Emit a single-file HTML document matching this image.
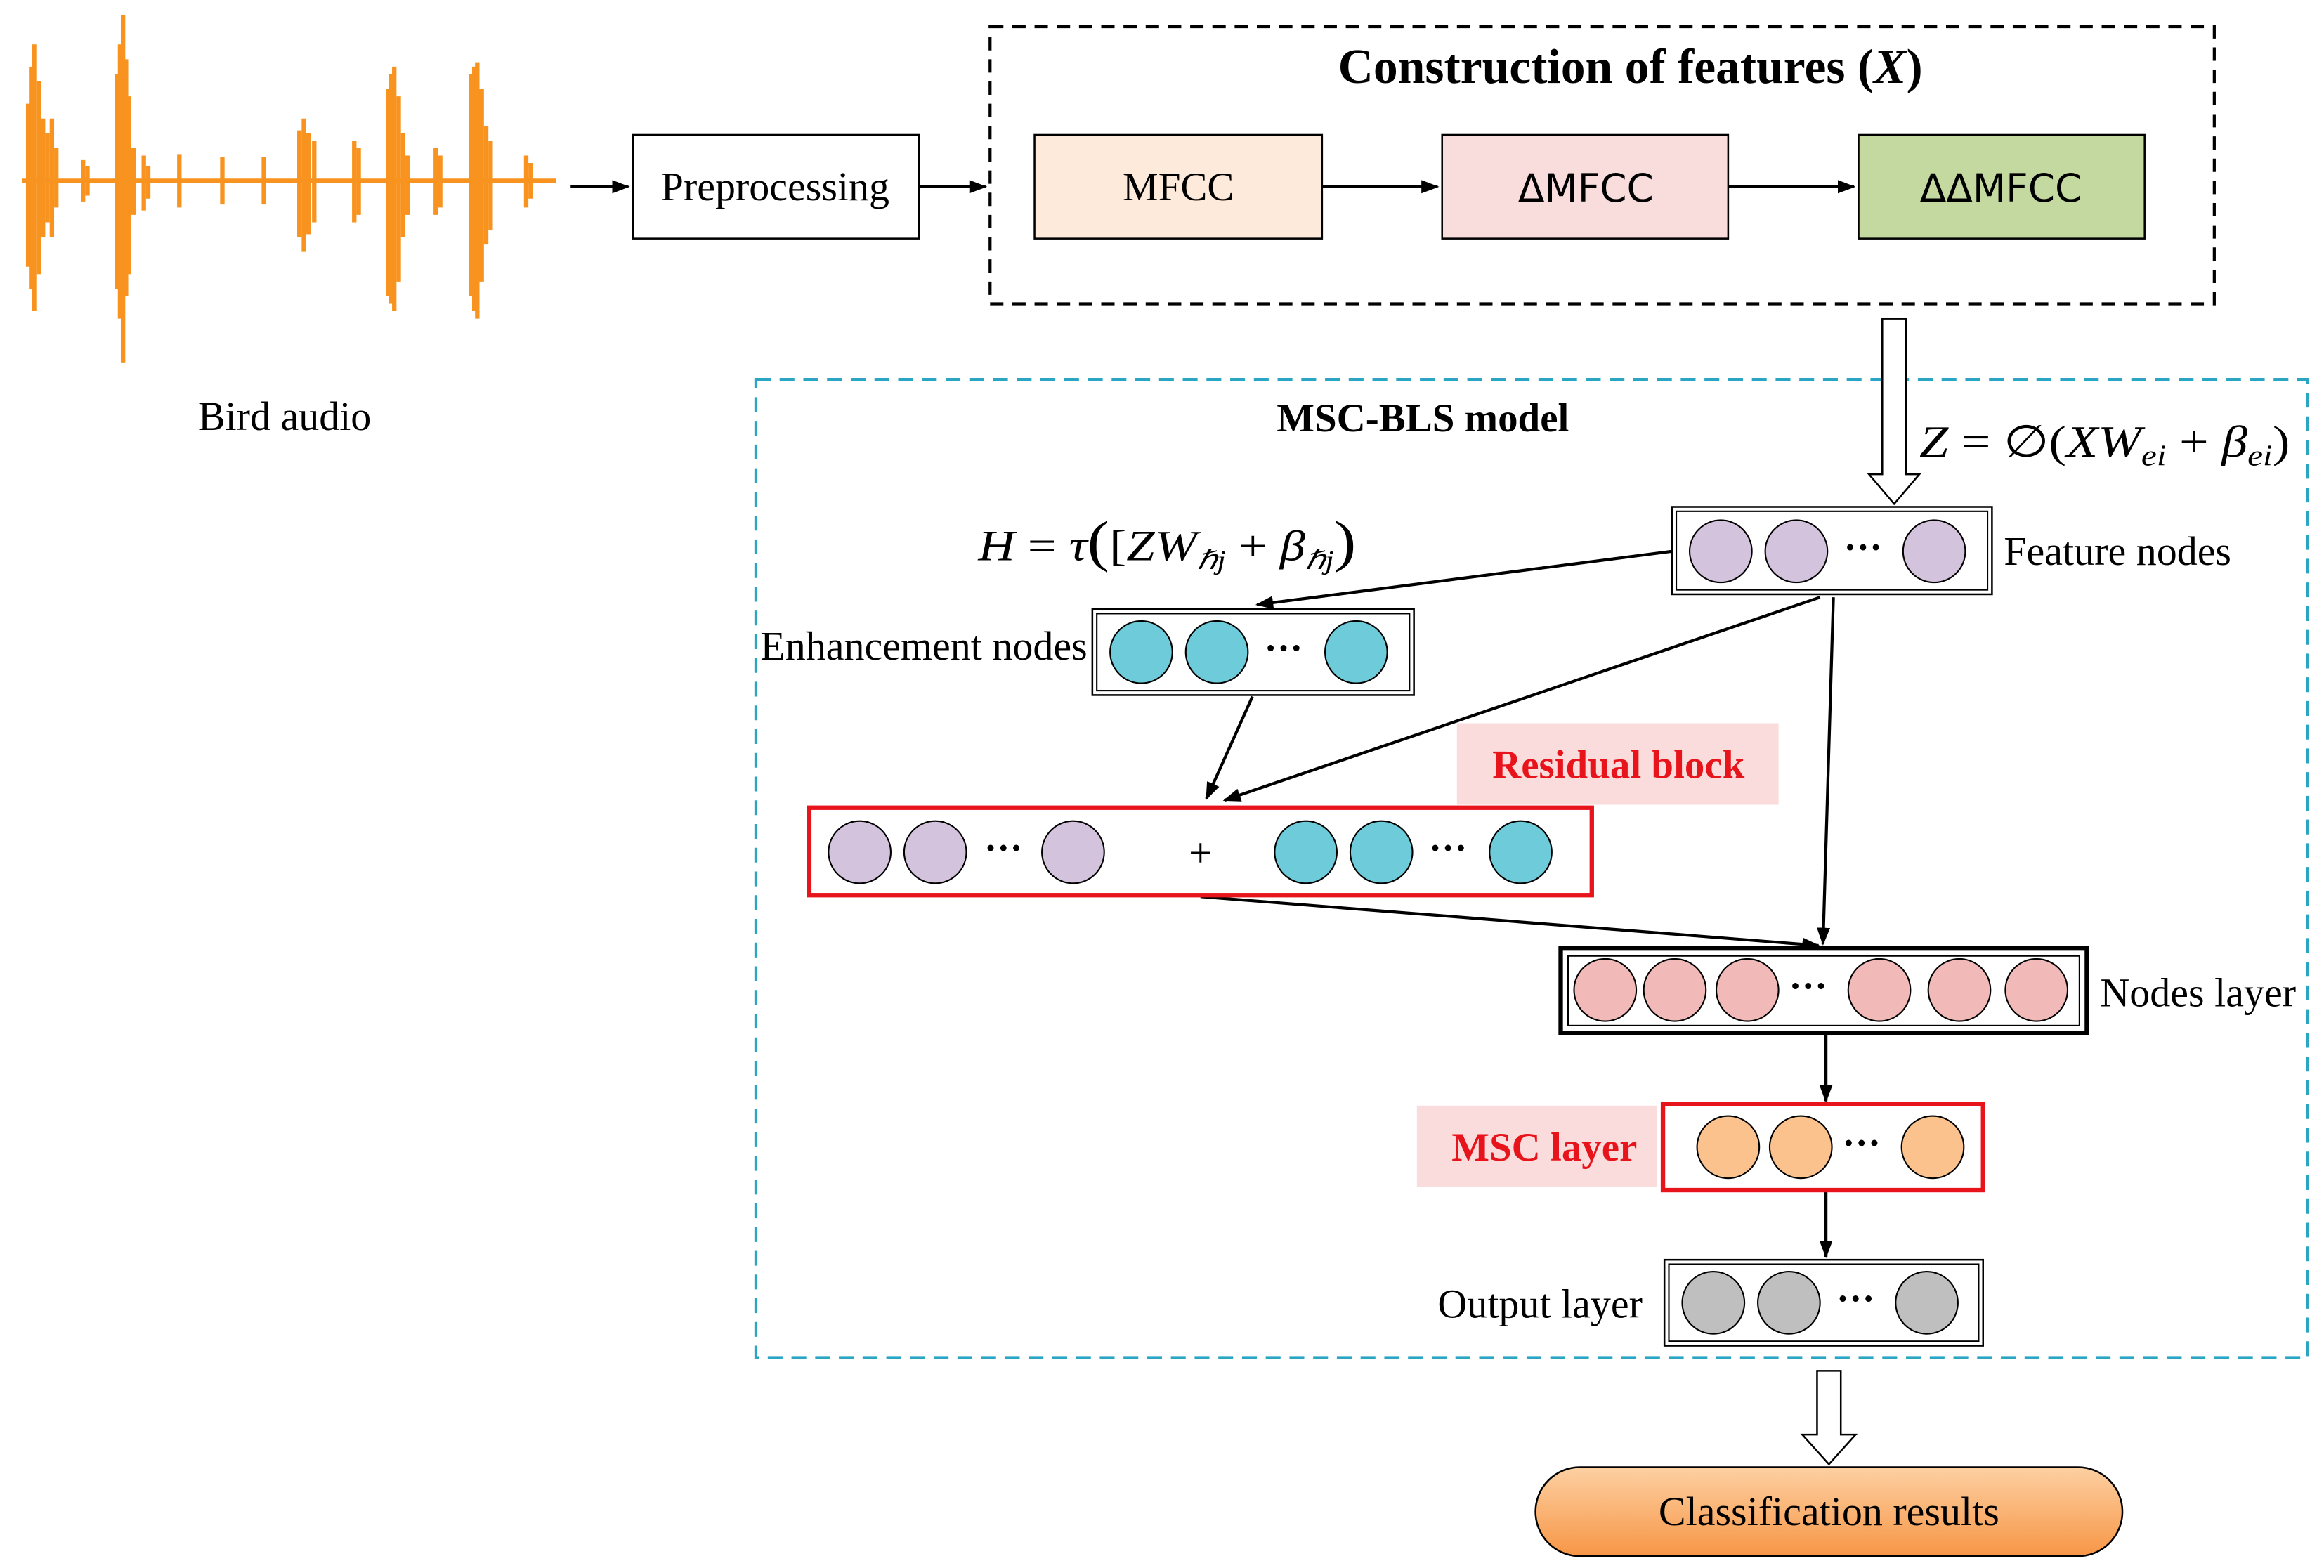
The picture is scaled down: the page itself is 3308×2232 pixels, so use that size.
<!DOCTYPE html>
<html><head><meta charset="utf-8"><style>html,body{margin:0;padding:0;background:#fff}svg{display:block}</style></head>
<body>
<svg width="3308" height="2232" viewBox="0 0 1568 1058" xmlns="http://www.w3.org/2000/svg" font-family="'Liberation Serif', serif">
<defs>
<marker id="ah" markerWidth="12" markerHeight="9" refX="11" refY="4.5" orient="auto" markerUnits="userSpaceOnUse"><path d="M0,0 L12,4.5 L0,9 Z" fill="#000"/></marker>
<linearGradient id="og" x1="0" y1="0" x2="0" y2="1"><stop offset="0" stop-color="#fdd0a2"/><stop offset="1" stop-color="#f79646"/></linearGradient>
</defs>
<!-- waveform -->
<g stroke="#f7931e" stroke-width="3">
<line x1="15" y1="122" x2="375" y2="122"/>
<line x1="19" y1="70" x2="19" y2="180"/><line x1="21" y1="45" x2="21" y2="195"/><line x1="23" y1="30" x2="23" y2="210"/><line x1="26" y1="55" x2="26" y2="185"/><line x1="29" y1="80" x2="29" y2="160"/><line x1="32" y1="90" x2="32" y2="150"/><line x1="35" y1="80" x2="35" y2="160"/><line x1="38" y1="100" x2="38" y2="140"/>
<line x1="56" y1="108" x2="56" y2="136"/><line x1="59" y1="112" x2="59" y2="132"/>
<line x1="79" y1="50" x2="79" y2="195"/><line x1="81" y1="30" x2="81" y2="215"/><line x1="83" y1="10" x2="83" y2="245"/><line x1="85" y1="40" x2="85" y2="200"/><line x1="87" y1="65" x2="87" y2="185"/><line x1="90" y1="100" x2="90" y2="145"/>
<line x1="97" y1="105" x2="97" y2="142"/><line x1="100" y1="112" x2="100" y2="134"/>
<line x1="121" y1="104" x2="121" y2="140"/><line x1="150" y1="106" x2="150" y2="138"/><line x1="178" y1="106" x2="178" y2="138"/>
<line x1="202" y1="88" x2="202" y2="160"/><line x1="205" y1="80" x2="205" y2="170"/><line x1="208" y1="90" x2="208" y2="158"/><line x1="212" y1="95" x2="212" y2="150"/>
<line x1="239" y1="95" x2="239" y2="150"/><line x1="242" y1="100" x2="242" y2="145"/>
<line x1="262" y1="60" x2="262" y2="200"/><line x1="264" y1="50" x2="264" y2="205"/><line x1="266" y1="45" x2="266" y2="210"/><line x1="269" y1="65" x2="269" y2="190"/><line x1="272" y1="90" x2="272" y2="160"/><line x1="275" y1="105" x2="275" y2="145"/>
<line x1="294" y1="100" x2="294" y2="145"/><line x1="297" y1="105" x2="297" y2="140"/>
<line x1="318" y1="50" x2="318" y2="200"/><line x1="320" y1="45" x2="320" y2="210"/><line x1="322" y1="42" x2="322" y2="215"/><line x1="325" y1="60" x2="325" y2="190"/><line x1="328" y1="85" x2="328" y2="165"/><line x1="331" y1="95" x2="331" y2="155"/>
<line x1="355" y1="105" x2="355" y2="140"/><line x1="358" y1="110" x2="358" y2="134"/>
</g>
<text x="192" y="290" font-size="27.5" text-anchor="middle">Bird audio</text>
<!-- top row -->
<line x1="385" y1="126" x2="424" y2="126" stroke="#000" stroke-width="2" marker-end="url(#ah)"/>
<rect x="427" y="91" width="193" height="70" fill="#fff" stroke="#000" stroke-width="1.2"/>
<text x="523" y="135" font-size="27.5" text-anchor="middle">Preprocessing</text>
<line x1="620" y1="126" x2="665" y2="126" stroke="#000" stroke-width="2" marker-end="url(#ah)"/>
<rect x="668" y="18" width="826" height="187" fill="none" stroke="#000" stroke-width="2" stroke-dasharray="9,6"/>
<text x="1100" y="56" font-size="33" font-weight="bold" text-anchor="middle">Construction of features (<tspan font-style="italic">X</tspan>)</text>
<rect x="698" y="91" width="194" height="70" fill="#fdeada" stroke="#000" stroke-width="1.2"/>
<text x="795" y="135" font-size="27" text-anchor="middle">MFCC</text>
<line x1="892" y1="126" x2="970" y2="126" stroke="#000" stroke-width="2" marker-end="url(#ah)"/>
<rect x="973" y="91" width="193" height="70" fill="#f9dcdc" stroke="#000" stroke-width="1.2"/>
<text x="1070" y="136" font-size="26" text-anchor="middle" font-family="'DejaVu Sans',sans-serif">ΔMFCC</text>
<line x1="1166" y1="126" x2="1251" y2="126" stroke="#000" stroke-width="2" marker-end="url(#ah)"/>
<rect x="1254" y="91" width="193" height="70" fill="#c3d99f" stroke="#000" stroke-width="1.2"/>
<text x="1350" y="136" font-size="26" text-anchor="middle" font-family="'DejaVu Sans',sans-serif">ΔΔMFCC</text>
<!-- cyan box -->
<rect x="510" y="256" width="1047" height="660" fill="none" stroke="#2aa6c4" stroke-width="2" stroke-dasharray="10,6"/>
<text x="960" y="291" font-size="27" font-weight="bold" text-anchor="middle">MSC-BLS model</text>
<path d="M1270,215 H1286 V320 H1295 L1278,340 L1261,320 H1270 Z" fill="#fff" stroke="#000" stroke-width="1.2"/>
<text x="1295" y="308" font-size="30" font-style="italic" textLength="250" lengthAdjust="spacingAndGlyphs">Z <tspan font-style="normal">= ∅(</tspan>XW<tspan font-size="20" dy="6">ei</tspan><tspan dy="-6" font-style="normal"> + </tspan>β<tspan font-size="20" dy="6">ei</tspan><tspan dy="-6" font-style="normal">)</tspan></text>
<text x="660" y="378" font-size="29" font-style="italic" textLength="255" lengthAdjust="spacingAndGlyphs">H <tspan font-style="normal">= </tspan>τ<tspan font-style="normal" font-size="38">(</tspan><tspan font-style="normal">[</tspan>ZW<tspan font-size="18" dy="6">ℏj</tspan><tspan dy="-6" font-style="normal"> + </tspan>β<tspan font-size="18" dy="6">ℏj</tspan><tspan dy="-6" font-style="normal" font-size="38">)</tspan></text>
<!-- feature nodes -->
<rect x="1128" y="342" width="216" height="59" fill="#fff" stroke="#000" stroke-width="1.2"/>
<rect x="1131" y="345" width="210" height="53" fill="none" stroke="#000" stroke-width="1"/>
<g fill="#d4c3dd" stroke="#000" stroke-width="1"><circle cx="1161" cy="372" r="21"/><circle cx="1212" cy="372" r="21"/><circle cx="1305" cy="372" r="21"/></g>
<text x="1257" y="378" font-size="26" text-anchor="middle" font-weight="bold">···</text>
<text x="1352" y="381" font-size="27.5">Feature nodes</text>
<!-- enhancement -->
<rect x="737" y="411" width="217" height="58" fill="#fff" stroke="#000" stroke-width="1.2"/>
<rect x="740" y="414" width="211" height="52" fill="none" stroke="#000" stroke-width="1"/>
<g fill="#6ecbd9" stroke="#000" stroke-width="1"><circle cx="770" cy="440" r="21"/><circle cx="821" cy="440" r="21"/><circle cx="915" cy="440" r="21"/></g>
<text x="866" y="446" font-size="26" text-anchor="middle" font-weight="bold">···</text>
<text x="513" y="445" font-size="27.5">Enhancement nodes</text>
<!-- arrows -->
<g stroke="#000" stroke-width="2" fill="none">
<line x1="1128" y1="372" x2="848" y2="408" marker-end="url(#ah)"/>
<line x1="845" y1="470" x2="814" y2="539" marker-end="url(#ah)"/>
<line x1="1228" y1="403" x2="826" y2="540" marker-end="url(#ah)"/>
<line x1="1237" y1="403" x2="1230" y2="637" marker-end="url(#ah)"/>
<line x1="810" y1="605" x2="1227" y2="638" marker-end="url(#ah)"/>
<line x1="1232" y1="697" x2="1232" y2="743" marker-end="url(#ah)"/>
<line x1="1232" y1="803" x2="1232" y2="848" marker-end="url(#ah)"/>
</g>
<!-- residual -->
<rect x="983" y="488" width="217" height="55" fill="#fbdcdc"/>
<text x="1092" y="525" font-size="27" font-weight="bold" fill="#e8141c" text-anchor="middle">Residual block</text>
<rect x="546" y="545" width="528" height="59" fill="#fff" stroke="#e8141c" stroke-width="3"/>
<g fill="#d4c3dd" stroke="#000" stroke-width="1"><circle cx="580" cy="575" r="21"/><circle cx="631" cy="575" r="21"/><circle cx="724" cy="575" r="21"/></g>
<g fill="#6ecbd9" stroke="#000" stroke-width="1"><circle cx="881" cy="575" r="21"/><circle cx="932" cy="575" r="21"/><circle cx="1026" cy="575" r="21"/></g>
<text x="677" y="581" font-size="26" text-anchor="middle" font-weight="bold">···</text>
<text x="977" y="581" font-size="26" text-anchor="middle" font-weight="bold">···</text>
<text x="810" y="585" font-size="28" text-anchor="middle">+</text>
<!-- nodes layer -->
<rect x="1053" y="640" width="355" height="57" fill="#fff" stroke="#000" stroke-width="3"/>
<rect x="1058" y="645" width="345" height="47" fill="none" stroke="#000" stroke-width="1"/>
<g fill="#f2b9b9" stroke="#000" stroke-width="1"><circle cx="1083" cy="668" r="21"/><circle cx="1130" cy="668" r="21"/><circle cx="1179" cy="668" r="21"/><circle cx="1268" cy="668" r="21"/><circle cx="1322" cy="668" r="21"/><circle cx="1374" cy="668" r="21"/></g>
<text x="1220" y="674" font-size="26" text-anchor="middle" font-weight="bold">···</text>
<text x="1417" y="679" font-size="27.5">Nodes layer</text>
<!-- MSC -->
<rect x="956" y="746" width="162" height="55" fill="#fbdcdc"/>
<text x="1042" y="783" font-size="27" font-weight="bold" fill="#e8141c" text-anchor="middle">MSC layer</text>
<rect x="1122" y="745" width="216" height="58" fill="#fff" stroke="#e8141c" stroke-width="3"/>
<g fill="#fbc28e" stroke="#000" stroke-width="1"><circle cx="1166" cy="774" r="21"/><circle cx="1215" cy="774" r="21"/><circle cx="1304" cy="774" r="21"/></g>
<text x="1256" y="780" font-size="26" text-anchor="middle" font-weight="bold">···</text>
<!-- output -->
<rect x="1123" y="850" width="215" height="58" fill="#fff" stroke="#000" stroke-width="1.2"/>
<rect x="1126" y="853" width="209" height="52" fill="none" stroke="#000" stroke-width="1"/>
<g fill="#bfbfbf" stroke="#000" stroke-width="1"><circle cx="1156" cy="879" r="21"/><circle cx="1207" cy="879" r="21"/><circle cx="1300" cy="879" r="21"/></g>
<text x="1252" y="885" font-size="26" text-anchor="middle" font-weight="bold">···</text>
<text x="970" y="889" font-size="27.5">Output layer</text>
<!-- classification -->
<path d="M1226,925 H1242 V968 H1252 L1234,988 L1216,968 H1226 Z" fill="#fff" stroke="#000" stroke-width="1.2"/>
<rect x="1036" y="990" width="396" height="60" rx="30" fill="url(#og)" stroke="#000" stroke-width="1.2"/>
<text x="1234" y="1029" font-size="27.5" text-anchor="middle">Classification results</text>
</svg>
</body></html>
